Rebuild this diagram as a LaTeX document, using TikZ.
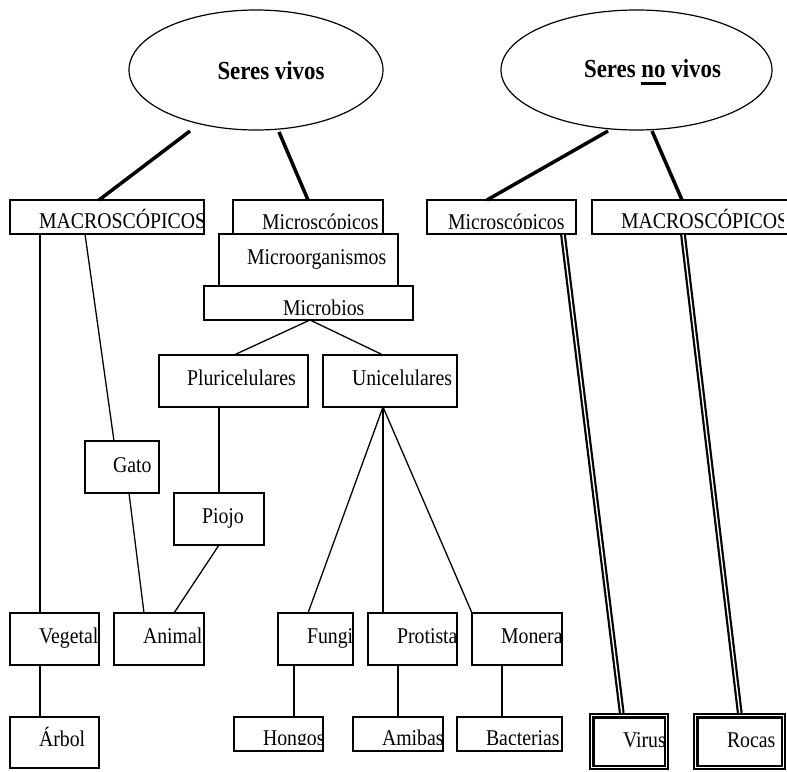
\documentclass[tikz,border=0pt]{standalone}
\usepackage{fontspec}
\setmainfont{Liberation Serif}[FakeStretch=0.88]
\usetikzlibrary{shapes.geometric,calc}

% underline drawn as a plain rule under a word
\newcommand\ulword[1]{{\setbox0=\hbox{#1}\rlap{\rule[-7pt]{\wd0}{2.3pt}}\box0}}

\tikzset{
  box/.style={draw, fill=white, line width=1.2pt, rectangle, inner sep=0pt, outer sep=0pt, anchor=north west},
  dbox/.style={draw, fill=white, line width=2.2pt, double=white, double distance=1.1pt, rectangle, inner sep=0pt, outer sep=0pt, anchor=north west},
  lbl/.style={inner sep=0pt, outer sep=0pt, anchor=base west, font=\fontsize{22.5}{26}\selectfont},
  oval/.style={draw, ellipse, line width=1.2pt, inner sep=0pt, outer sep=0pt},
  head/.style={inner sep=0pt, anchor=base, font=\fontsize{26}{30}\selectfont\bfseries},
  thin link/.style={line width=1.3pt},
  thick link/.style={line width=3.5pt},
  dlink/.style={line width=2.2pt, double=white, double distance=1.4pt},
}

% #1 style, #2 name, #3 top-left corner, #4 width, #5 height,
% #6 text base point, #7 lower-right corner of the text clip, #8 text
\newcommand\cbox[8]{%
  \node[#1, minimum width=#4pt, minimum height=#5pt] (#2) at #3 {};
  \begin{scope}
    \clip (#2.north west) rectangle #7;
    \node[lbl] (#2-t) at #6 {#8};
  \end{scope}}

\begin{document}
\begin{tikzpicture}[x=1pt, y=-1pt]
\useasboundingbox (0,0) rectangle (787,771);
\clip (0,0) rectangle (787,771);

% top-level ovals
\node[oval, minimum width=254pt, minimum height=120pt] (sv) at (256,70) {};
\node[head] (sv-t) at (271,79.5) {Seres vivos};
\node[oval, minimum width=271pt, minimum height=120pt] (snv) at (636.5,70) {};
\node[head] (snv-t) at (652.5,77.5) {Seres \ulword{no} vivos};

% boxes
\cbox{box}{macL}{(10,200)}{194}{34}{(39,228)}{(204,229)}{MACROSCÓPICOS}
\cbox{box}{micL}{(233,200)}{150}{34}{(262,229)}{(383,228.5)}{Microscópicos}
\cbox{box}{morg}{(219,234)}{179}{52}{(247,264)}{(398,286)}{Microorganismos}
\cbox{box}{mbio}{(204,286)}{209}{34}{(283,315)}{(413,314.5)}{Microbios}
\cbox{box}{pluri}{(159,355)}{149}{52}{(187,385)}{(308,407)}{Pluricelulares}
\cbox{box}{uni}{(323,355)}{134}{52}{(352,385)}{(457,407)}{Unicelulares}
\cbox{box}{gato}{(85,441)}{74}{52}{(113,472)}{(159,493)}{Gato}
\cbox{box}{piojo}{(174,493)}{90}{52}{(202,523)}{(264,545)}{Piojo}
\cbox{box}{veg}{(10,613)}{89}{52}{(39,643)}{(99,665)}{Vegetal}
\cbox{box}{anim}{(114,613)}{90}{52}{(143,643)}{(204,665)}{Animal}
\cbox{box}{fungi}{(278,613)}{75}{52}{(307,643)}{(353,665)}{Fungi}
\cbox{box}{prot}{(368,613)}{89}{52}{(397,643)}{(457,665)}{Protista}
\cbox{box}{mon}{(472,613)}{90}{52}{(501,643)}{(562,665)}{Monera}
\cbox{box}{arbol}{(10,717)}{89}{51}{(39,746)}{(99,768)}{Árbol}
\cbox{box}{hongos}{(234,717)}{89}{34}{(263,745)}{(323,744.5)}{Hongos}
\cbox{box}{amibas}{(353,717)}{90}{34}{(382,745)}{(443,744.5)}{Amibas}
\cbox{box}{bact}{(457,717)}{105}{34}{(486,745)}{(562,744.5)}{Bacterias}
\cbox{box}{micR}{(427,200)}{149}{34}{(448,229)}{(576,228.5)}{Microscópicos}
\cbox{box}{macR}{(592,200)}{200}{34}{(621,228)}{(783,229)}{MACROSCÓPICOS}
\cbox{dbox}{virus}{(591.75,715.75)}{74.5}{51.5}{(623,747)}{(664,764)}{Virus}
\cbox{dbox}{rocas}{(695.75,715.75)}{87.5}{51.5}{(727,747)}{(781,764)}{Rocas}

% heavy links from the ovals
\draw[thick link] ($(sv.south)+(-66,1)$) -- ($(macL.north west)+(89,0)$);
\draw[thick link] ($(sv.south)+(23,2)$) -- ($(micL.north west)+(75,0)$);
\draw[thick link] ($(snv.south)+(-28.5,1)$) -- ($(micR.north west)+(60,0)$);
\draw[thick link] ($(snv.south)+(15.5,1)$) -- ($(macR.north west)+(90,0)$);

% thin links
\draw[thin link] ($(macL.south west)+(30,0)$) -- ($(veg.north west)+(30,0)$);
\draw[thin link] ($(macL.south west)+(75,0)$) -- ($(gato.north west)+(29,0)$);
\draw[thin link] ($(gato.south west)+(44,0)$) -- ($(anim.north west)+(30,0)$);
\draw[thin link] ($(pluri.south west)+(60,0)$) -- (piojo.north);
\draw[thin link] (piojo.south) -- ($(anim.north west)+(60,0)$);
\draw[thin link] ($(veg.south west)+(30,0)$) -- ($(arbol.north west)+(30,0)$);
\draw[thin link] ($(mbio.south west)+(106,0)$) -- ($(pluri.north west)+(75,0)$);
\draw[thin link] ($(mbio.south west)+(106,0)$) -- ($(uni.north west)+(60,0)$);
\draw[thin link] ($(uni.south west)+(60,0)$) -- ($(fungi.north west)+(30,0)$);
\draw[thin link] ($(uni.south west)+(60,0)$) -- ($(prot.north west)+(15,0)$);
\draw[thin link] ($(uni.south west)+(60,0)$) -- (mon.north west);
\draw[thin link] ($(fungi.south west)+(16,0)$) -- ($(hongos.north west)+(60,0)$);
\draw[thin link] ($(prot.south west)+(30,0)$) -- ($(amibas.north west)+(45,0)$);
\draw[thin link] ($(mon.south west)+(30,0)$) -- ($(bact.north west)+(45,0)$);

% double links to the non-living examples
\draw[dlink] ($(micR.south west)+(136,0.6)$) -- ($(virus.north west)+(30,-2.75)$);
\draw[dlink] ($(macR.south west)+(91,0.6)$) -- ($(rocas.north west)+(44,-2.75)$);
\end{tikzpicture}
\end{document}
